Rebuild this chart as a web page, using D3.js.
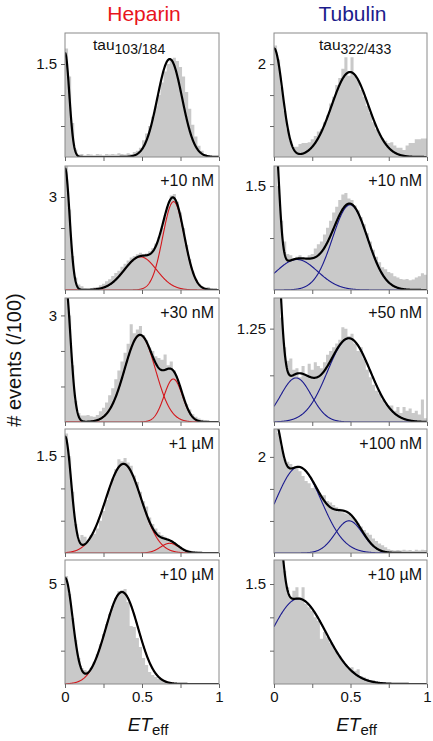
<!DOCTYPE html>
<html><head><meta charset="utf-8">
<script src="https://cdn.jsdelivr.net/npm/d3@7"></script>
<style>body{margin:0;background:#fff}svg{display:block;font-family:"Liberation Sans",Arial,sans-serif}</style>
</head><body><svg id="c" width="433" height="741"></svg>
<script>
// ---------- DATA ----------
const binWidth = 0.02;          // ET_eff bin width (50 bins, 0..1)
const xTicks = [0, 0.25, 0.5, 0.75, 1];
const xTickLabels = [0, 0.5, 1];
const columnTitles = ["Heparin", "Tubulin"];
const leftLabels = ["tau|103/184", "+10 nM", "+30 nM", "+1 µM", "+10 µM"];
const rightLabels = ["tau|322/433", "+10 nM", "+50 nM", "+100 nM", "+10 µM"];

// histogram counts (/100) per bin
const histL1 = [1.75,1.3,0.55,0.12,0.04,0.05,0.03,0.05,0.04,0.03,0.05,0.04,0.03,0.05,0.04,0.05,0.04,0.06,0.05,0.04,0.06,0.05,0.08,0.1,0.15,0.27,0.38,0.5,0.65,0.82,1.0,1.2,1.38,1.5,1.58,1.6,1.55,1.45,1.3,1.05,0.78,0.52,0.33,0.18,0.1,0.05,0.03,0.02,0.01,0.01];
const histL2 = [4.0,2.6,1.1,0.4,0.18,0.12,0.06,0.05,0.06,0.08,0.1,0.15,0.2,0.28,0.35,0.45,0.55,0.62,0.75,0.85,0.95,1.05,1.1,1.15,1.2,1.15,1.18,1.25,1.35,1.5,1.7,2.0,2.35,2.7,3.05,3.1,2.85,2.5,2.0,1.45,1.0,0.6,0.35,0.2,0.12,0.08,0.1,0.05,0.03,0.02];
const histL3 = [3.6,3.0,1.6,0.6,0.25,0.18,0.18,0.2,0.16,0.15,0.2,0.3,0.4,0.55,0.75,0.95,1.2,1.45,1.7,1.95,2.2,2.75,2.5,2.6,2.7,2.45,2.3,2.1,2.0,1.85,1.8,1.75,1.9,1.6,1.7,1.45,1.2,0.95,0.7,0.5,0.35,0.22,0.15,0.1,0.06,0.04,0.03,0.02,0.02,0.01];
const histL4 = [1.85,1.5,0.95,0.45,0.2,0.28,0.25,0.18,0.28,0.3,0.38,0.5,0.65,0.82,1.0,1.15,1.3,1.45,1.42,1.47,1.4,1.35,1.2,1.1,0.95,0.8,0.72,0.55,0.45,0.38,0.32,0.28,0.25,0.22,0.2,0.16,0.12,0.1,0.06,0.05,0.04,0.03,0.03,0.02,0.01,0.01,0.01,0.0,0.01,0.0];
const histL5 = [5.4,4.5,3.3,2.2,1.3,0.8,0.7,0.65,0.8,1.1,1.5,2.0,2.5,3.0,3.5,3.9,4.3,4.65,4.7,4.75,4.1,2.9,2.85,2.3,1.85,1.3,0.95,0.6,0.45,0.35,0.25,0.2,0.15,0.1,0.06,0.05,0.03,0.03,0.02,0.02,0.01,0.01,0.01,0.0,0.0,0.0,0.0,0.0,0.0,0.0];
const histR1 = [2.4,2.1,1.5,1.0,0.6,0.35,0.22,0.22,0.28,0.3,0.3,0.32,0.38,0.45,0.55,0.6,0.75,0.9,1.15,1.3,1.55,1.7,1.9,2.15,1.75,2.15,1.75,1.65,1.45,1.3,1.1,0.95,0.75,0.6,0.5,0.4,0.35,0.3,0.32,0.25,0.2,0.2,0.15,0.25,0.3,0.3,0.38,0.38,0.4,0.4];
const histR2 = [1.8,1.5,1.0,0.7,0.52,0.5,0.46,0.48,0.5,0.45,0.46,0.5,0.52,0.6,0.66,0.7,0.8,0.9,1.0,1.12,1.2,1.3,1.38,1.4,1.32,1.3,1.22,1.15,1.05,0.95,0.82,0.7,0.58,0.48,0.4,0.33,0.3,0.26,0.24,0.2,0.18,0.16,0.15,0.16,0.14,0.15,0.18,0.2,0.24,0.22];
const histR3 = [1.7,1.7,1.4,1.0,0.82,0.85,0.7,0.72,0.6,0.75,0.62,0.78,0.7,0.8,0.75,0.72,0.8,0.9,0.95,1.0,1.05,1.1,1.27,1.25,1.15,1.18,1.05,0.95,1.0,0.85,0.7,0.6,0.5,0.42,0.38,0.3,0.25,0.22,0.22,0.15,0.2,0.12,0.2,0.15,0.18,0.12,0.15,0.1,0.3,0.05];
const histR4 = [2.7,2.5,2.2,1.95,1.9,1.85,1.75,1.8,1.7,1.6,1.5,1.45,1.35,1.4,1.25,1.2,1.2,1.08,1.05,1.0,0.95,0.92,0.85,0.82,0.8,0.76,0.7,0.62,0.55,0.48,0.42,0.38,0.3,0.25,0.2,0.16,0.12,0.08,0.06,0.05,0.06,0.05,0.07,0.05,0.06,0.04,0.07,0.05,0.07,0.06];
const histR5 = [1.9,1.9,1.9,1.7,1.45,1.3,1.4,1.45,1.3,1.45,1.2,1.15,1.1,1.0,0.95,0.68,0.78,0.7,0.62,0.55,0.48,0.42,0.35,0.28,0.22,0.25,0.2,0.22,0.12,0.1,0.08,0.06,0.06,0.04,0.03,0.03,0.02,0.01,0.01,0.0,0.0,0.0,0.0,0.0,0.0,0.0,0.0,0.0,0.0,0.0];

// Gaussian fit parameters [amplitude, centre, sigma]
const zeroL = [[1.68,0,0.028],[3.93,0,0.03],[4.0,0,0.035],[1.8,0,0.04],[5.3,0,0.05]];
const zeroR = [[2.34,0,0.055],[2.2,0,0.03],[2.8,0,0.037],[1.7,0,0.043],[2.3,0,0.041]];
const compsL = [
  [[1.58,0.68,0.08]],
  [[1.07,0.49,0.105],[2.85,0.705,0.07]],
  [[2.45,0.487,0.1],[1.21,0.703,0.06]],
  [[1.38,0.38,0.115],[0.15,0.68,0.06]],
  [[4.6,0.37,0.105]]
];
const compsR = [
  [[1.83,0.497,0.12]],
  [[0.44,0.15,0.136],[1.23,0.497,0.115]],
  [[0.59,0.144,0.1],[1.12,0.49,0.14]],
  [[1.79,0.16,0.15],[0.67,0.49,0.09]],
  [[1.28,0.16,0.179]]
];
// y axis: top of range, labelled tick, extra ticks
const yMaxL = [2.0, 4.0, 3.49, 1.92, 6.2];
const yMaxR = [2.67, 1.79, 1.66, 2.58, 1.86];
const yLabelL = [1.5, 3, 3, 1.5, 5];
const yLabelR = [2, 1.5, 1.25, 2, 1.5];
const yMinorL = [[0.5,1],[1,2],[1,2],[0.5,1],[5/3,10/3]];
const yMinorR = [[2/3,4/3],[0.75],[0.625],[2/3,4/3],[0.5,1]];

// ---------- LAYOUT ----------
const colX = [[65,219],[274,427]];
const rowTop = [33,166,298,429,560];
const panelH = 124;
const colColors = ["#d4171c", "#1a1a8f"];
const titleColors = ["#e8141c", "#1c1c8c"];

const svg = d3.select("#c");
const defs = svg.append("defs");

const histAll = [[histL1,histL2,histL3,histL4,histL5],[histR1,histR2,histR3,histR4,histR5]];
const zeros = [zeroL, zeroR], comps = [compsL, compsR];
const yMaxs = [yMaxL, yMaxR], yLabels = [yLabelL, yLabelR], yMinors = [yMinorL, yMinorR];
const labels = [leftLabels, rightLabels];

const gauss = (c, e) => c[0] * Math.exp(-0.5 * ((e - c[1]) / c[2]) ** 2);
const samples = d3.range(0, 1.0001, 0.002);

for (let col = 0; col < 2; col++) {
  for (let row = 0; row < 5; row++) {
    const [x0, x1] = colX[col];
    const top = rowTop[row], bot = top + panelH;
    const x = d3.scaleLinear().domain([0, 1]).range([x0, x1]);
    const y = d3.scaleLinear().domain([0, yMaxs[col][row]]).range([bot, top]);
    const id = `clip${col}${row}`;
    defs.append("clipPath").attr("id", id).append("rect")
      .attr("x", x0).attr("y", top).attr("width", x1 - x0).attr("height", panelH);
    const inner = svg.append("g").attr("clip-path", `url(#${id})`);
    const hist = histAll[col][row];
    const steps = hist.map((v, j) => [j * binWidth, v]);
    steps.push([hist.length * binWidth, hist[hist.length - 1]]);
    inner.append("path").datum(steps)
      .attr("d", d3.area().curve(d3.curveStepAfter)
        .x(d => x(d[0])).y0(y(0)).y1(d => y(d[1])))
      .attr("fill", "#c9c9c9");
    const cs = comps[col][row];
    const z = zeros[col][row];
    if (row > 0) {
      cs.forEach(c => {
        inner.append("path").datum(samples)
          .attr("d", d3.line().x(e => x(e)).y(e => y(gauss(c, e))))
          .attr("fill", "none").attr("stroke", colColors[col]).attr("stroke-width", 1.1);
      });
    }
    const total = e => gauss(z, e) + d3.sum(cs, c => gauss(c, e));
    inner.append("path").datum(samples)
      .attr("d", d3.line().x(e => x(e)).y(e => Math.max(top - 5, y(total(e)))))
      .attr("fill", "none").attr("stroke", "#000").attr("stroke-width", 2.2)
      .attr("stroke-linejoin", "round");

    // frame
    svg.append("rect").attr("x", x0).attr("y", top).attr("width", x1 - x0).attr("height", panelH)
      .attr("fill", "none").attr("stroke", "#8a8a8a").attr("stroke-width", 1);

    // axes
    const xa = svg.append("g").attr("transform", `translate(0,${bot})`)
      .call(d3.axisBottom(x).tickValues(xTicks).tickSize(4).tickPadding(3)
        .tickFormat(d => (row === 4 && xTickLabels.includes(d)) ? String(d) : ""));
    xa.select(".domain").remove();
    xa.selectAll("line").attr("stroke", "#666");
    xa.selectAll("text").attr("font-size", 15).attr("fill", "#111")
      .attr("font-family", '"Liberation Sans",Arial,sans-serif');

    const lab = yLabels[col][row];
    const ya = svg.append("g").attr("transform", `translate(${x0},0)`)
      .call(d3.axisLeft(y).tickValues([...yMinors[col][row], lab]).tickSize(4).tickPadding(4)
        .tickFormat(d => d === lab ? String(lab) : ""));
    ya.select(".domain").remove();
    ya.selectAll("line").attr("stroke", "#666");
    ya.selectAll("text").attr("font-size", 15).attr("fill", "#111")
      .attr("font-family", '"Liberation Sans",Arial,sans-serif');

    // panel label
    const L = labels[col][row];
    if (L.includes("|")) {
      const [a, b] = L.split("|");
      const t = svg.append("text").attr("x", col === 0 ? 93 : 319).attr("y", top + 17)
        .attr("font-size", 15.5).attr("fill", "#111");
      t.append("tspan").text(a);
      t.append("tspan").attr("dy", 4).attr("font-size", 14).text(b);
    } else {
      svg.append("text").attr("x", x1 - 5).attr("y", top + 20).attr("text-anchor", "end")
        .attr("font-size", 16).attr("fill", "#111").text(L);
    }
  }
  // column title
  svg.append("text").attr("x", (colX[col][0] + colX[col][1]) / 2 + 2).attr("y", 21)
    .attr("text-anchor", "middle").attr("font-size", 21).attr("fill", titleColors[col])
    .text(columnTitles[col]);
  // x label
  const xl = svg.append("text").attr("x", (colX[col][0] + colX[col][1]) / 2 + 6).attr("y", 731)
    .attr("text-anchor", "middle").attr("font-size", 19).attr("fill", "#111");
  xl.append("tspan").attr("font-style", "italic").text("ET");
  xl.append("tspan").attr("font-size", 15).attr("dy", 4).text("eff");
}
// y label
svg.append("text").attr("transform", "translate(21,360) rotate(-90)")
  .attr("text-anchor", "middle").attr("font-size", 20).attr("fill", "#111")
  .text("# events (/100)");
</script></body></html>
